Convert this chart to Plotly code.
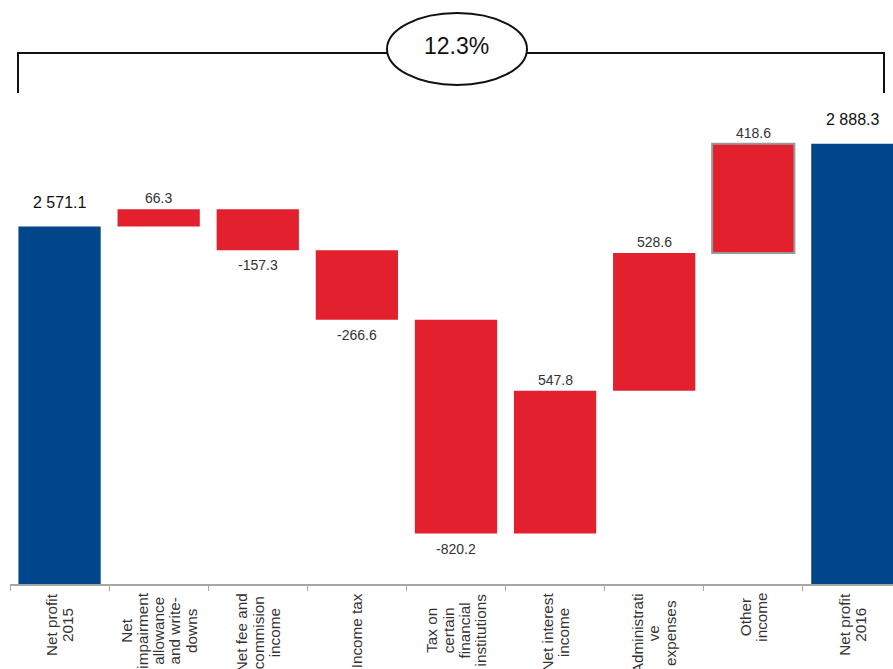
import plotly.graph_objects as go

# ---- data ----
categories = ["Net profit 2015", "Net impairment allowance and write-downs",
              "Net fee and commision income", "Income tax",
              "Tax on certain financial institutions", "Net interest income",
              "Administrative expenses", "Other income", "Net profit 2016"]
tick_labels = ["Net profit<br>2015", "Net<br>impairment<br>allowance<br>and write-<br>downs",
               "Net fee and<br>commision<br>income", "Income tax",
               "Tax on<br>certain<br>financial<br>institutions", "Net interest<br>income",
               "Administrati<br>ve<br>expenses", "Other<br>income", "Net profit<br>2016"]
start_value = 2571.1
changes = [66.3, -157.3, -266.6, -820.2, 547.8, 528.6, 418.6]
end_value = 2888.3
growth_label = "12.3%"

# ---- build waterfall geometry from data ----
bases, heights, labels, kinds = [], [], [], []
bases.append(0); heights.append(start_value); kinds.append("total")
labels.append(f"{start_value:,.1f}".replace(",", " "))
run = start_value
for d in changes:
    lo, hi = min(run, run + d), max(run, run + d)
    bases.append(lo); heights.append(hi - lo)
    kinds.append("up" if d >= 0 else "down")
    labels.append(f"{d:.1f}")
    run += d
bases.append(0); heights.append(end_value); kinds.append("total")
labels.append(f"{end_value:,.1f}".replace(",", " "))

BLUE = "#00468B"
RED = "#E3202E"
colors = [BLUE if k == "total" else RED for k in kinds]
line_colors = ["#999999" if c == "Other income" else col for c, col in zip(categories, colors)]
line_widths = [2 if c == "Other income" else 0 for c in categories]

FONT = "Liberation Sans, Arial, sans-serif"

fig = go.Figure()
fig.add_trace(go.Bar(
    x=categories, y=heights, base=bases, width=0.83,
    marker=dict(color=colors, line=dict(color=line_colors, width=line_widths)),
    hoverinfo="skip", showlegend=False,
))

OFF = 0
W, H = 893, 669
L, R, T, B = 10, 0, 0, 85
YMIN = 1200
YMAX = YMIN + (H - B - T) * 3.835

annotations = []
# value labels
for c, b, h, k, lab in zip(categories, bases, heights, kinds, labels):
    if k == "total":
        annotations.append(dict(x=c, y=b + h, xref="x", yref="y", text=lab, showarrow=False,
                                yanchor="middle", yshift=24,
                                font=dict(family=FONT, size=16, color="#111111")))
    elif k == "up":
        annotations.append(dict(x=c, y=b + h, xref="x", yref="y", text=lab, showarrow=False,
                                yanchor="middle", yshift=11,
                                font=dict(family=FONT, size=14, color="#333333")))
    else:
        annotations.append(dict(x=c, y=b, xref="x", yref="y", text=lab, showarrow=False,
                                yanchor="middle", yshift=-15,
                                font=dict(family=FONT, size=14, color="#333333")))
# category labels (rotated, centered lines, tight line spacing)
for c, t in zip(categories, tick_labels):
    txt = "<br>".join(f"<span style='font-size:15.3px'>{ln}</span>" for ln in t.split("<br>"))
    annotations.append(dict(x=c, y=0, xref="x", yref="paper", text=txt, showarrow=False,
                            textangle=-90, align="center", xanchor="center", yanchor="top",
                            yshift=-7, font=dict(family=FONT, size=12.5, color="#333333")))

# bracket + ellipse (decoration, screen pixel -> paper)
pw, ph = W - L - R, H - T - B
def px(x):
    return (x - OFF - L) / pw
def py(y):
    return (H - B - (y - OFF)) / ph

shapes = [
    dict(type="path", xref="paper", yref="paper",
         path=f"M {px(18)},{py(93)} L {px(18)},{py(53)} L {px(884)},{py(53)} L {px(884)},{py(93)}",
         line=dict(color="#111111", width=2), layer="above"),
    dict(type="circle", xref="paper", yref="paper",
         x0=px(387), x1=px(527), y0=py(85), y1=py(13),
         line=dict(color="#111111", width=2), fillcolor="white", layer="above"),
]
annotations.append(dict(x=px(457), y=py(46), xref="paper", yref="paper", text=growth_label,
                        showarrow=False, xanchor="center", yanchor="middle",
                        font=dict(family="Liberation Sans Narrow, Arial Narrow, Liberation Sans, Arial",
                                  size=23, color="#111111")))

fig.update_layout(
    width=W, height=H,
    margin=dict(l=L, r=R, t=T, b=B, pad=0, autoexpand=False),
    plot_bgcolor="white", paper_bgcolor="white",
    annotations=annotations, shapes=shapes,
    xaxis=dict(type="category", categoryorder="array", categoryarray=categories,
               range=[-0.5, 8.41], showticklabels=False, tickson="boundaries",
               ticks="outside", ticklen=5, tickcolor="#a6a6a6", tickwidth=1,
               showline=True, linecolor="#a6a6a6", linewidth=2,
               showgrid=False, zeroline=False, fixedrange=True),
    yaxis=dict(range=[YMIN, YMAX], showticklabels=False, showgrid=False,
               zeroline=False, showline=False, ticks="", fixedrange=True),
    hovermode=False,
)

fig.write_html("out.html", config={"displayModeBar": False, "staticPlot": True},
               post_script="document.body.style.margin='0px';document.body.style.overflow='hidden';")
